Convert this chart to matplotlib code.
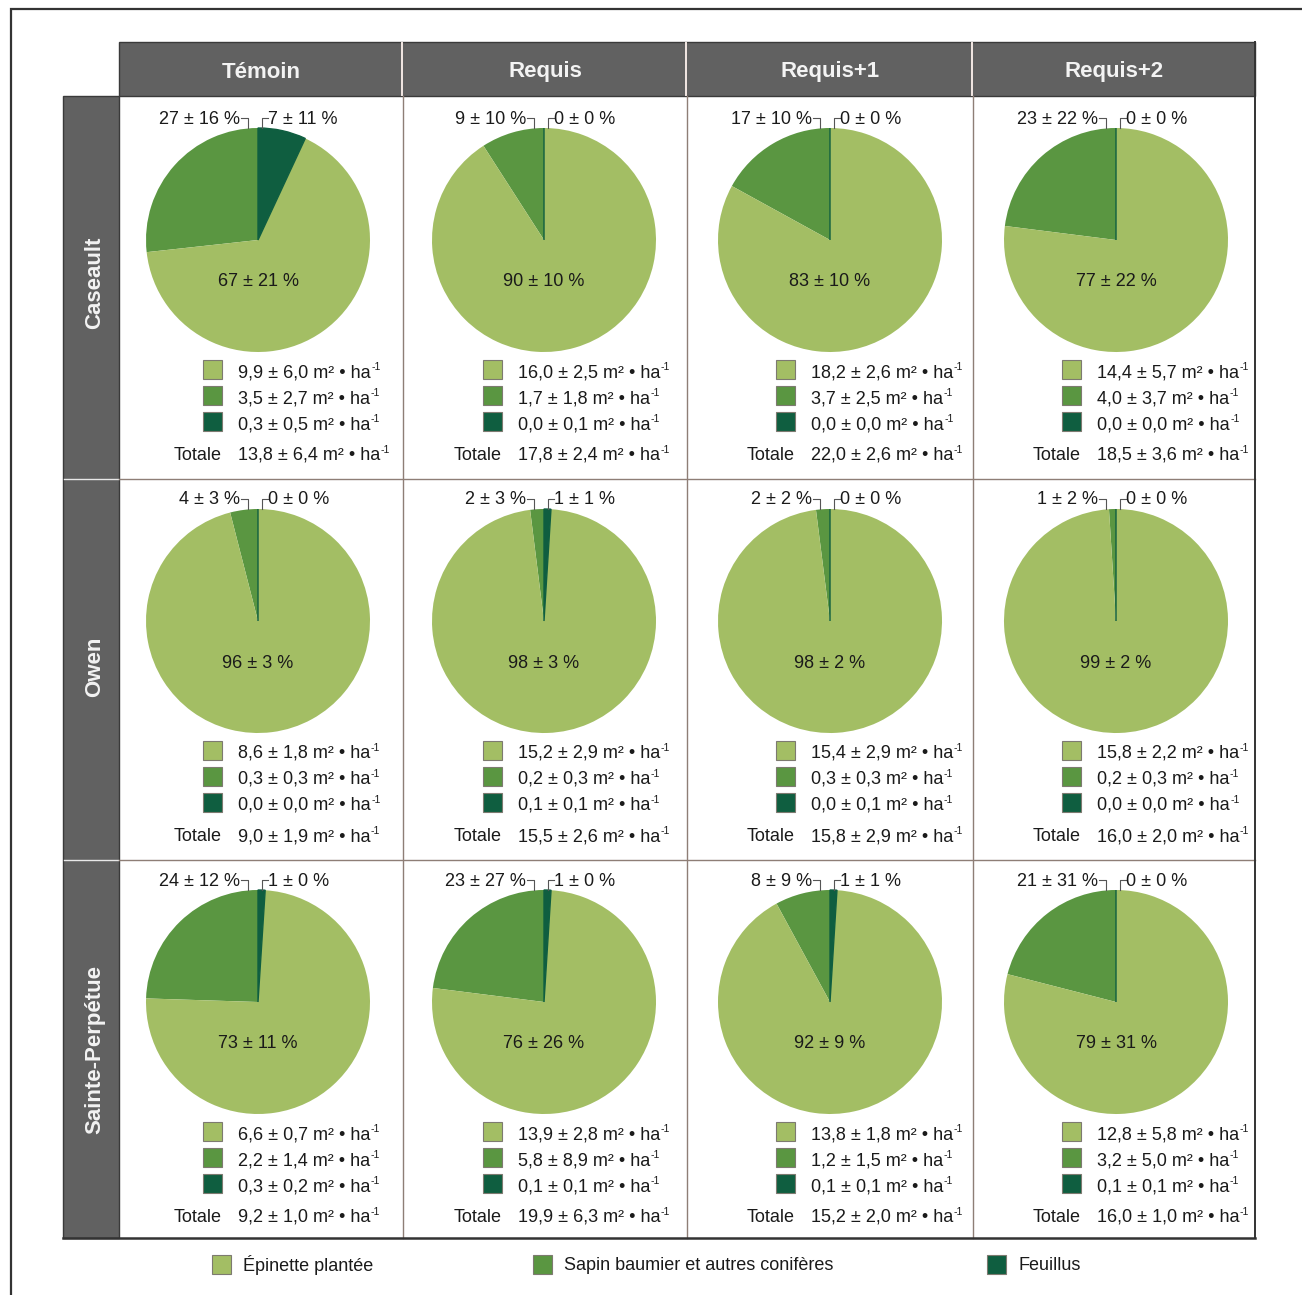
import matplotlib
matplotlib.use("Agg")
import matplotlib.pyplot as plt
from matplotlib.patches import Rectangle

plt.rcParams['font.family'] = ['Liberation Sans', 'DejaVu Sans']

# ---- data ---------------------------------------------------------------
treatments = ["Témoin", "Requis", "Requis+1", "Requis+2"]
sites = ["Caseault", "Owen", "Sainte-Perpétue"]
species = ["Épinette plantée", "Sapin baumier et autres conifères", "Feuillus"]

# share of basal area (%), mean and sd, rows = sites, cols = treatments
pct_epinette = [[67, 90, 83, 77], [96, 98, 98, 99], [73, 76, 92, 79]]
pct_epinette_sd = [[21, 10, 10, 22], [3, 3, 2, 2], [11, 26, 9, 31]]
pct_sapin = [[27, 9, 17, 23], [4, 2, 2, 1], [24, 23, 8, 21]]
pct_sapin_sd = [[16, 10, 10, 22], [3, 3, 2, 2], [12, 27, 9, 31]]
pct_feuillus = [[7, 0, 0, 0], [0, 1, 0, 0], [1, 1, 1, 0]]
pct_feuillus_sd = [[11, 0, 0, 0], [0, 1, 0, 0], [0, 0, 1, 0]]

# basal area (m2/ha), mean and sd
ba_epinette = [["9,9", "16,0", "18,2", "14,4"], ["8,6", "15,2", "15,4", "15,8"], ["6,6", "13,9", "13,8", "12,8"]]
ba_epinette_sd = [["6,0", "2,5", "2,6", "5,7"], ["1,8", "2,9", "2,9", "2,2"], ["0,7", "2,8", "1,8", "5,8"]]
ba_sapin = [["3,5", "1,7", "3,7", "4,0"], ["0,3", "0,2", "0,3", "0,2"], ["2,2", "5,8", "1,2", "3,2"]]
ba_sapin_sd = [["2,7", "1,8", "2,5", "3,7"], ["0,3", "0,3", "0,3", "0,3"], ["1,4", "8,9", "1,5", "5,0"]]
ba_feuillus = [["0,3", "0,0", "0,0", "0,0"], ["0,0", "0,1", "0,0", "0,0"], ["0,3", "0,1", "0,1", "0,1"]]
ba_feuillus_sd = [["0,5", "0,1", "0,0", "0,0"], ["0,0", "0,1", "0,1", "0,0"], ["0,2", "0,1", "0,1", "0,1"]]
ba_total = [["13,8", "17,8", "22,0", "18,5"], ["9,0", "15,5", "15,8", "16,0"], ["9,2", "19,9", "15,2", "16,0"]]
ba_total_sd = [["6,4", "2,4", "2,6", "3,6"], ["1,9", "2,6", "2,9", "2,0"], ["1,0", "6,3", "2,0", "1,0"]]

# ---- styling ------------------------------------------------------------
C_EPI = "#A3BE64"
C_SAP = "#5A9641"
C_FEU = "#0F5E40"
C_HEAD = "#616161"
C_LINE = "#8E7E76"
C_TXT = "#1a1a1a"

W, H = 1302, 1295
fig = plt.figure(figsize=(W / 100, H / 100), dpi=100)
ax = fig.add_axes([0, 0, 1, 1])
ax.set_xlim(0, W)
ax.set_ylim(0, H)
renderer = fig.canvas.get_renderer()


def Y(py):
    return H - py


col_edges = [119, 403, 687, 973, 1255]
row_edges = [96, 479, 860, 1238]
row_label_y = [283, 667, 1050]
head_top = 42
label_left = 63
pie_cx = [258, 544, 830, 1116]
pie_cy = [240, 621, 1002]
radius = 112
text_x = [238, 518, 811, 1097]
FS = 13


def basal_text(x, baseline, value):
    """Draw 'value m² • ha⁻¹' with a compact superscript exponent."""
    t = ax.text(x, Y(baseline), f"{value} m² • ha", ha="left", va="baseline",
                fontsize=FS, color=C_TXT)
    bb = t.get_window_extent(renderer)
    x_end = ax.transData.inverted().transform((bb.x1, bb.y0))[0]
    ax.text(x_end + 0.5, Y(baseline - 7), "-1", ha="left", va="baseline",
            fontsize=7.5, color=C_TXT)


# outer frame
ax.plot([11, 11, W + 5], [Y(H + 5), Y(9), Y(9)], color="#333333", lw=1.6,
        solid_joinstyle="miter", clip_on=False)

# header band and row label band
ax.add_patch(Rectangle((col_edges[0], Y(row_edges[0])), col_edges[-1] - col_edges[0],
                       row_edges[0] - head_top, facecolor=C_HEAD, edgecolor="#3a3a3a", lw=1))
ax.add_patch(Rectangle((label_left, Y(row_edges[-1])), col_edges[0] - label_left,
                       row_edges[-1] - row_edges[0], facecolor=C_HEAD, edgecolor="#3a3a3a", lw=1))
for x in col_edges[1:-1]:
    ax.plot([x - 1, x - 1], [Y(head_top + 1), Y(row_edges[0] - 1)], color="#f4e8e4", lw=1.4)
for y in row_edges[1:-1]:
    ax.plot([label_left + 1, col_edges[0] - 1], [Y(y), Y(y)], color="#e8e8e8", lw=1.0)

for j, t in enumerate(treatments):
    ax.text((col_edges[j] + col_edges[j + 1]) / 2, Y((head_top + row_edges[0]) / 2 + 3), t,
            ha="center", va="center", fontsize=16, fontweight="bold", color="#f3f3f3")
for i, s in enumerate(sites):
    ax.text((label_left + col_edges[0]) / 2 + 4, Y(row_label_y[i]), s,
            ha="center", va="center", rotation=90, fontsize=16, fontweight="bold", color="#f3f3f3")

# cell separators
for x in col_edges[1:-1]:
    ax.plot([x, x], [Y(row_edges[0]), Y(row_edges[-1])], color=C_LINE, lw=1.0)
for y in row_edges[1:-1]:
    ax.plot([col_edges[0], col_edges[-1]], [Y(y), Y(y)], color=C_LINE, lw=1.0)
ax.plot([col_edges[-1], col_edges[-1]], [Y(head_top), Y(row_edges[-1])], color="#333333", lw=1.4)
ax.plot([label_left, col_edges[-1]], [Y(row_edges[-1]), Y(row_edges[-1])], color="#333333", lw=1.8)

for i in range(len(sites)):
    for j in range(len(treatments)):
        cx, cy = pie_cx[j], pie_cy[i]
        vals = [pct_sapin[i][j], pct_epinette[i][j], pct_feuillus[i][j]]
        wedges, _ = ax.pie(vals, colors=[C_SAP, C_EPI, C_FEU], startangle=90,
                           counterclock=True, center=(cx, Y(cy)), radius=radius,
                           frame=True, wedgeprops=dict(linewidth=0))
        wedges[2].set_edgecolor(C_FEU)
        wedges[2].set_linewidth(1.0)

        # percentage labels with leaders
        ly = cy - 122
        top = cy - radius
        lx_left, lx_right = cx - 10, cx + 4
        ax.plot([lx_left - 7, lx_left, lx_left], [Y(ly), Y(ly), Y(top)], color="#555555", lw=0.8)
        ax.plot([lx_right, lx_right, lx_right + 6], [Y(top), Y(ly), Y(ly)], color="#555555", lw=0.8)
        ax.text(lx_left - 8, Y(ly + 1), f"{pct_sapin[i][j]} ± {pct_sapin_sd[i][j]} %",
                ha="right", va="center", fontsize=FS, color=C_TXT)
        ax.text(lx_right + 6, Y(ly + 1), f"{pct_feuillus[i][j]} ± {pct_feuillus_sd[i][j]} %",
                ha="left", va="center", fontsize=FS, color=C_TXT)
        ax.text(cx, Y(cy + 42), f"{pct_epinette[i][j]} ± {pct_epinette_sd[i][j]} %",
                ha="center", va="center", fontsize=FS, color=C_TXT)

        # basal area legend
        tx = text_x[j]
        rows = [(C_EPI, ba_epinette[i][j], ba_epinette_sd[i][j]),
                (C_SAP, ba_sapin[i][j], ba_sapin_sd[i][j]),
                (C_FEU, ba_feuillus[i][j], ba_feuillus_sd[i][j])]
        for k, (c, v, e) in enumerate(rows):
            yy = cy + 131 + 26 * k
            ax.add_patch(Rectangle((tx - 35, Y(yy - 2) - 9.5), 19, 19, facecolor=c,
                                   edgecolor="#7d7a70", lw=0.8))
            basal_text(tx, yy + 6, f"{v} ± {e}")
        yt = cy + 214
        ax.text(tx - 16, Y(yt + 6), "Totale", ha="right", va="baseline", fontsize=FS, color=C_TXT)
        basal_text(tx, yt + 6, f"{ba_total[i][j]} ± {ba_total_sd[i][j]}")

# species legend
leg_sq_x = [212, 533, 987]
for k, (name, c) in enumerate(zip(species, [C_EPI, C_SAP, C_FEU])):
    ax.add_patch(Rectangle((leg_sq_x[k], Y(1264) - 9.5), 19, 19, facecolor=c,
                           edgecolor="#7d7a70", lw=0.8))
    ax.text(leg_sq_x[k] + 31, Y(1265), name, ha="left", va="center", fontsize=FS, color=C_TXT)

ax.set_xlim(0, W)
ax.set_ylim(0, H)
ax.axis("off")
fig.savefig("out.png", dpi=100)
